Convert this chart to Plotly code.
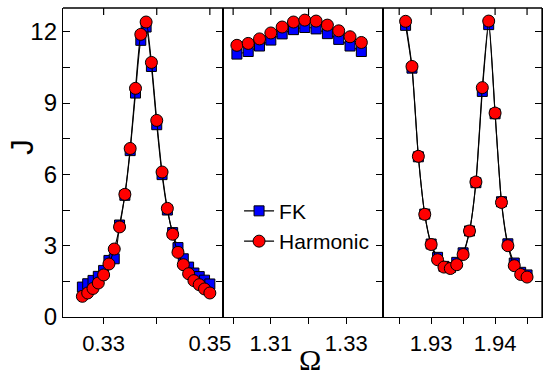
import plotly.graph_objects as go

# ---- data ----
omega_low = [0.326, 0.327, 0.328, 0.329, 0.330, 0.331, 0.332, 0.333, 0.334, 0.335,
             0.336, 0.337, 0.338, 0.339, 0.340, 0.341, 0.342, 0.343, 0.344, 0.345,
             0.346, 0.347, 0.348, 0.349, 0.350]
fk_low = [1.26, 1.40, 1.54, 1.71, 1.96, 2.38, 2.45, 3.87, 5.12, 7.00,
          9.42, 11.64, 12.20, 10.54, 8.09, 5.99, 4.50, 3.55, 2.92, 2.45,
          2.10, 1.85, 1.70, 1.55, 1.39]
harm_low = [0.87, 1.01, 1.20, 1.43, 1.77, 2.23, 2.86, 3.79, 5.16, 7.09,
            9.62, 11.89, 12.41, 10.71, 8.27, 6.10, 4.57, 3.48, 2.72, 2.20,
            1.82, 1.53, 1.36, 1.18, 1.01]

omega_mid = [1.301, 1.304, 1.307, 1.310, 1.313, 1.316, 1.319, 1.322, 1.325, 1.328, 1.331, 1.334]
fk_mid = [11.06, 11.17, 11.40, 11.65, 11.91, 12.09, 12.18, 12.12, 11.92, 11.68, 11.40, 11.17]
harm_mid = [11.43, 11.51, 11.70, 11.95, 12.20, 12.41, 12.49, 12.45, 12.28, 12.04, 11.79, 11.55]

omega_high = [1.926, 1.927, 1.928, 1.929, 1.930, 1.931, 1.932, 1.933, 1.934, 1.935,
              1.936, 1.937, 1.938, 1.939, 1.940, 1.941, 1.942, 1.943, 1.944, 1.945]
fk_high = [12.27, 10.47, 6.74, 4.33, 3.07, 2.51, 2.13, 2.08, 2.30, 2.70,
           3.62, 5.65, 9.49, 12.30, 8.55, 4.85, 3.08, 2.27, 1.88, 1.77]
harm_high = [12.44, 10.54, 6.76, 4.32, 3.05, 2.41, 2.10, 2.04, 2.20, 2.63,
             3.62, 5.68, 9.65, 12.45, 8.58, 4.82, 3.00, 2.16, 1.79, 1.68]

y_ticks = [0, 1.5, 3, 4.5, 6, 7.5, 9, 10.5, 12]
y_labels = ["0", "", "3", "", "6", "", "9", "", "12"]
low_ticks = [0.33, 0.34, 0.35]
low_labels = ["0.33", "", "0.35"]
mid_ticks = [1.30, 1.31, 1.32, 1.33]
mid_labels = ["", "1.31", "", "1.33"]
high_ticks = [1.925, 1.93, 1.935, 1.94, 1.945]
high_labels = ["", "1.93", "", "1.94", ""]

# ---- figure ----
W, H = 550, 375
L, R, T, B = 63, 0, 8, 57.5
pw = W - L - R
ph = H - T - B
def px_to_xd(px):
    return (px - L) / pw
def py_to_yd(py):
    return (H - B - py) / ph

d1 = [0, px_to_xd(225.5)]
d2 = [px_to_xd(225.5), px_to_xd(388)]
d3 = [px_to_xd(388), 1]

rng1 = [0.322352, 0.352444]
rng2 = [1.29727, 1.33965]
rng3 = [1.922415, 1.947338]
yr = [0, 13]

FONT = "Liberation Sans, Arial, sans-serif"
line_style = dict(color="black", width=1.1, shape="spline", smoothing=0.6)
sq = dict(symbol="square", size=10, color="#0000FF", line=dict(color="black", width=1))
ci = dict(symbol="circle", size=12, color="#FF0000", line=dict(color="black", width=1))

fig = go.Figure()
panels = [(omega_low, fk_low, harm_low, "x", "y"),
          (omega_mid, fk_mid, harm_mid, "x2", "y2"),
          (omega_high, fk_high, harm_high, "x3", "y3")]
for i, (xo, fk, hm, xa, ya) in enumerate(panels):
    fig.add_trace(go.Scatter(x=xo, y=fk, mode="lines+markers", name="FK",
                             line=line_style, marker=sq, xaxis=xa, yaxis=ya,
                             showlegend=(i == 0)))
for i, (xo, fk, hm, xa, ya) in enumerate(panels):
    fig.add_trace(go.Scatter(x=xo, y=hm, mode="lines+markers", name="Harmonic",
                             line=line_style, marker=ci, xaxis=xa, yaxis=ya,
                             showlegend=(i == 0)))

tickfont_x = dict(family=FONT, size=22, color="black")
tickfont_y = dict(family=FONT, size=24, color="black")
common = dict(showgrid=False, zeroline=False, showline=True, linecolor="black",
              linewidth=1.3, tickwidth=1.2, tickcolor="black")

def xbottom(dom, rng, anchor, tv, tt):
    return dict(domain=dom, range=rng, anchor=anchor, ticks="outside", ticklen=6,
                tickvals=tv, ticktext=tt, tickfont=tickfont_x, **common)

# frame along the top (and right edge) plus inward top tick marks at the axis tick values
shapes = [
    dict(type="line", xref="paper", yref="paper", x0=0, x1=1, y0=1, y1=1,
         line=dict(color="black", width=1.3)),
    dict(type="line", xref="paper", yref="paper", x0=1, x1=1, y0=0, y1=1,
         line=dict(color="black", width=1.3)),
]
tick_frac = 7 / ph
for xref, tv in [("x", low_ticks), ("x2", mid_ticks), ("x3", high_ticks)]:
    for v in tv:
        shapes.append(dict(type="line", xref=xref, yref="paper", x0=v, x1=v,
                           y0=1, y1=1 - tick_frac, line=dict(color="black", width=1.2)))

fig.update_layout(
    width=W, height=H,
    margin=dict(l=L, r=R, t=T, b=B, pad=0),
    paper_bgcolor="white", plot_bgcolor="white",
    xaxis=xbottom(d1, rng1, "y", low_ticks, low_labels),
    xaxis2=xbottom(d2, rng2, "y2", mid_ticks, mid_labels),
    xaxis3=xbottom(d3, rng3, "y3", high_ticks, high_labels),
    yaxis=dict(domain=[0, 1], range=yr, anchor="x", mirror="ticks", ticks="inside",
               ticklen=7, tickvals=y_ticks, ticktext=y_labels, tickfont=tickfont_y,
               **common),
    yaxis2=dict(domain=[0, 1], range=yr, anchor="x2", side="right", mirror=True,
                ticks="inside", ticklen=7, tickvals=y_ticks, showticklabels=False,
                **common),
    yaxis3=dict(domain=[0, 1], range=yr, anchor="x3", side="right", mirror=True,
                ticks="inside", ticklen=7, tickvals=y_ticks, showticklabels=False,
                **common),
    shapes=shapes,
    legend=dict(x=px_to_xd(242), y=py_to_yd(191), xanchor="left", yanchor="top",
                bgcolor="rgba(0,0,0,0)", borderwidth=0,
                font=dict(family=FONT, size=21, color="black"),
                tracegroupgap=0, itemsizing="trace"),
    annotations=[
        dict(text="J", x=px_to_xd(21.5), y=py_to_yd(147), xref="paper", yref="paper",
             showarrow=False, textangle=-90, xanchor="center", yanchor="middle",
             font=dict(family=FONT, size=32, color="black")),
        dict(text="Ω", x=px_to_xd(314), y=py_to_yd(360), xref="paper", yref="paper",
             showarrow=False, xanchor="center", yanchor="middle",
             font=dict(family="Liberation Serif, Times New Roman, serif", size=30, color="black")),
    ],
)

fig.write_html("out.html")
